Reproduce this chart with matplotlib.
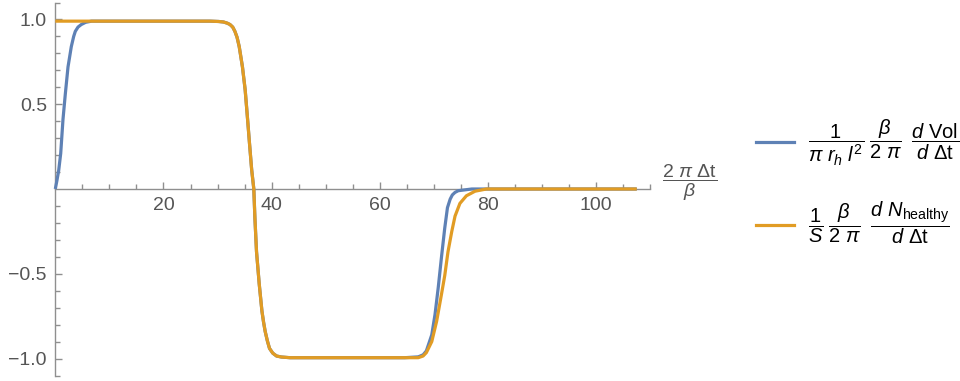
import matplotlib
matplotlib.use("Agg")
import matplotlib.pyplot as plt
from matplotlib.lines import Line2D
from matplotlib.ticker import FixedLocator

plt.rcParams['font.family'] = ['Liberation Sans', 'DejaVu Sans']
plt.rcParams['mathtext.fontset'] = 'custom'
plt.rcParams['mathtext.rm'] = 'Liberation Sans'
plt.rcParams['mathtext.it'] = 'Liberation Sans:italic'
plt.rcParams['mathtext.bf'] = 'Liberation Sans:bold'

# values
blue_x = [0.0, 0.3, 0.63, 1.0, 1.42, 1.85, 2.35, 2.96, 3.4, 3.7, 4.2, 4.8, 5.6, 6.7, 10, 20, 28.6,
          30.2, 31.1, 31.8, 32.3, 32.8, 33.2, 33.6, 34.0, 34.6, 35.1, 35.5, 35.9, 36.3, 36.7, 36.9,
          37.2, 37.7, 38.2, 38.5, 38.8, 39.2, 39.6, 40.2, 40.9, 41.8, 43.4, 50, 60, 64.6, 67.1,
          68.0, 68.6, 69.6, 70.2, 70.8, 71.4, 72.0, 72.5, 73.0, 73.4, 73.9, 74.5, 77.0, 90, 107.5]
blue_y = [0.0, 0.05, 0.11, 0.21, 0.41, 0.56, 0.72, 0.84, 0.90, 0.93, 0.955, 0.97, 0.983, 0.99, 0.99,
          0.99, 0.99, 0.988, 0.985, 0.978, 0.97, 0.955, 0.93, 0.895, 0.84, 0.72, 0.585, 0.43,
          0.27, 0.115, 0.0, -0.17, -0.37, -0.56, -0.72, -0.785, -0.84, -0.895, -0.94, -0.968,
          -0.985, -0.991, -0.995, -0.995, -0.995, -0.995, -0.99, -0.978, -0.955, -0.86, -0.74,
          -0.58, -0.40, -0.23, -0.11, -0.06, -0.035, -0.02, -0.01, 0.0, 0.0, 0.0]

orange_x = [0.0, 10, 20, 28.6, 30.2, 31.1, 31.8, 32.3, 32.8, 33.2, 33.6, 34.0, 34.6, 35.1, 35.5,
            35.9, 36.3, 36.7, 36.9, 37.2, 37.7, 38.2, 38.5, 38.8, 39.2, 39.6, 40.2, 40.9, 41.8,
            43.4, 50, 60, 64.6, 67.1, 68.0, 68.6, 69.6, 70.5, 71.4, 72.0, 72.6, 73.3, 73.9, 74.8,
            76.0, 77.6, 79.7, 90, 107.5]
orange_y = [0.99, 0.99, 0.99, 0.99, 0.988, 0.985, 0.978, 0.97, 0.955, 0.93, 0.895, 0.84, 0.72,
            0.585, 0.43, 0.27, 0.115, 0.0, -0.17, -0.37, -0.56, -0.72, -0.785, -0.84, -0.895,
            -0.94, -0.968, -0.985, -0.991, -0.995, -0.995, -0.995, -0.995, -0.995, -0.985,
            -0.965, -0.90, -0.78, -0.62, -0.51, -0.37, -0.25, -0.16, -0.085, -0.04, -0.013, 0.0,
            0.0, 0.0]

x_major = [20, 40, 60, 80, 100]
x_minor = [5, 10, 15, 25, 30, 35, 45, 50, 55, 65, 70, 75, 85, 90, 95, 105, 110]
y_major = [1.0, 0.5, -0.5, -1.0]
y_labels = ['1.0', '0.5', '\u22120.5', '\u22121.0']
y_minor = [-1.1, -0.9, -0.8, -0.7, -0.6, -0.4, -0.3, -0.2, -0.1,
           0.1, 0.2, 0.3, 0.4, 0.6, 0.7, 0.8, 0.9, 1.1]

blue = '#5E81B5'
orange = '#E19C24'
axis_gray = '#8f8f8f'
text_gray = '#555555'

fig = plt.figure(figsize=(9.6, 3.81), dpi=100)
ax = fig.add_axes([55.3 / 960, 5.5 / 381, 595 / 960, 373 / 381])

ax.plot(blue_x, blue_y, color=blue, lw=2.3, solid_capstyle='butt', clip_on=False, zorder=3)
ax.plot(orange_x, orange_y, color=orange, lw=2.3, solid_capstyle='butt', clip_on=False, zorder=4)

ax.set_xlim(0, 110)
ax.set_ylim(-1.1, 1.1)

for side in ['top', 'right']:
    ax.spines[side].set_visible(False)
ax.spines['left'].set_position(('data', 0))
ax.spines['bottom'].set_position(('data', 0))
for side in ['left', 'bottom']:
    ax.spines[side].set_color(axis_gray)
    ax.spines[side].set_linewidth(1.0)

ax.xaxis.set_major_locator(FixedLocator(x_major))
ax.xaxis.set_minor_locator(FixedLocator(x_minor))
ax.set_xticklabels([str(v) for v in x_major])
ax.yaxis.set_major_locator(FixedLocator(y_major))
ax.yaxis.set_minor_locator(FixedLocator(y_minor))
ax.set_yticklabels(y_labels)

ax.tick_params(which='both', direction='in', color=axis_gray, width=1.0,
               labelcolor=text_gray, labelsize=14)
ax.tick_params(which='major', length=5)
ax.tick_params(which='minor', length=3.5)
ax.tick_params(axis='x', which='major', pad=6)
ax.tick_params(axis='y', which='major', pad=6)

# axis label at the end of the horizontal axis
fig.text(690 / 960, 1 - 183 / 381, r'$\dfrac{2\ \pi\ \Delta\mathrm{t}}{\beta}$',
         ha='center', va='center', fontsize=14, color=text_gray)

handles = [Line2D([0], [0], color=blue, lw=2.3),
           Line2D([0], [0], color=orange, lw=2.3)]
labels = [r'$\dfrac{1}{\pi\ r_h\ l^2}\;\dfrac{\beta}{2\ \pi}\;\;\dfrac{d\ \mathrm{Vol}}{d\ \Delta\mathrm{t}}$',
          r'$\dfrac{1}{S}\;\dfrac{\beta}{2\ \pi}\;\;\dfrac{d\ N_{\mathrm{healthy}}}{d\ \Delta\mathrm{t}}$']
fig.legend(handles, labels, loc='center left', bbox_to_anchor=(748 / 960, 1 - 182 / 381),
           frameon=False, fontsize=14.5, handlelength=1.9, handletextpad=0.7,
           labelspacing=1.55, borderaxespad=0)

fig.savefig('out.png', dpi=100)
